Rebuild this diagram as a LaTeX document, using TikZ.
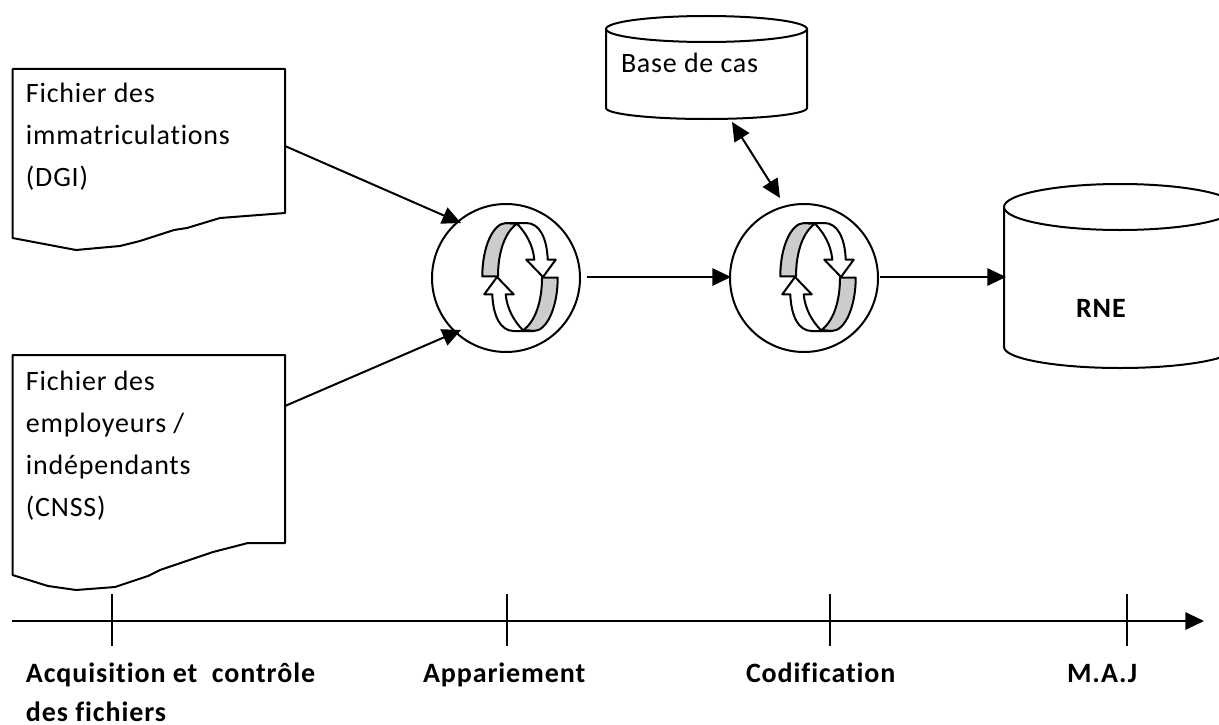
\documentclass[tikz,border=0pt]{standalone}
\usepackage{fontspec}
\setmainfont{Carlito}[LetterSpace=2.8,BoldFeatures={LetterSpace=3.3},Ligatures={NoCommon,NoRequired,NoContextual}]
\usetikzlibrary{arrows.meta}
\tikzset{
  shp/.style={draw=black,line width=1.5pt,line join=round},
  conn/.style={draw=black,line width=1.5pt,-{Triangle[length=14pt,width=13pt]}},
  dconn/.style={draw=black,line width=1.5pt,{Triangle[length=14pt,width=13pt]}-{Triangle[length=14pt,width=13pt]}},
  proc/.style={circle,draw=black,line width=1.5pt,minimum size=111pt,inner sep=0pt,outer sep=0pt},
  txt/.style={anchor=base west,inner sep=0pt,outer sep=0pt,font=\fontsize{21}{31.5}\selectfont},
  btxt/.style={anchor=base west,inner sep=0pt,outer sep=0pt,font=\fontsize{21}{29}\selectfont\bfseries},
  mtxt/.style={anchor=north west,inner sep=0pt,outer sep=0pt,align=left,font=\fontsize{21}{31.5}\selectfont},
  mbtxt/.style={anchor=north west,inner sep=0pt,outer sep=0pt,align=left,font=\fontsize{21}{29}\selectfont\bfseries},
  tick/.style={draw=black,line width=1.5pt},
  halfarrow/.pic={
    \path[shp,fill=black!20] (-37.7,-0.7) .. controls (-37.7,-30) and (-27,-54) .. (-13.7,-54)
      -- (-3,-53.3) .. controls (-15,-45) and (-22,-25) .. (-22,-0.7) -- cycle;
    \path[shp,fill=white] (-13.7,-54) -- (6.3,-54) .. controls (20,-54) and (27,-38) .. (27.7,-17.3)
      -- (35.7,-17.3) -- (23,0) -- (6.3,-17.3) -- (14.3,-17.3)
      .. controls (13,-32) and (6,-44) .. (-3,-53.3) -- cycle;
  },
  cycleicon/.pic={
    \pic {halfarrow};
    \pic[rotate=180] {halfarrow};
  }
}
\begin{document}
\begin{tikzpicture}[x=0.75pt,y=-0.75pt]
\useasboundingbox (0,0) rectangle (1219,724);
\clip (0,0) rectangle (1219,724);
% documents
\path[shp,fill=white] (12.5,69) -- (285,69) -- (285,213) -- (220,218) -- (187,228) -- (174,230) -- (140,241) -- (120,246) -- (76,250) -- (12.5,238) -- cycle;
\path[shp,fill=white] (12.5,355) -- (285,355) -- (285,543) -- (248,543) -- (213,552) -- (160,570) -- (148,576) -- (115,587) -- (76,590) -- (48,586) -- (12.5,575) -- cycle;
\node[mtxt] (doc1) at (26,83) {Fichier des\\immatriculations\\(DGI)};
\node[mtxt] (doc2) at (26,371) {Fichier des\\employeurs /\\indépendants\\(CNSS)};
% databases
\path[shp,fill=white] (606,29) -- (606,108) arc[x radius=100.5,y radius=-11,start angle=180,end angle=360] -- (807,29);
\path[shp,fill=white] (706.5,29) ellipse[x radius=100.5,y radius=13];
\node[txt] (base) at (621,73) {Base de cas};
\path[shp,fill=white] (1004,208) -- (1004,347) arc[x radius=116,y radius=-21,start angle=180,end angle=360] -- (1236,208);
\path[shp,fill=white] (1120,207) ellipse[x radius=116,y radius=23];
\node[txt,font=\fontsize{21}{25}\selectfont\bfseries] (rne) at (1076,317) {RNE};
% processes
\node[proc] (c1) at (506,278) {};
\node[proc] (c2) at (804,278) {};
\pic at (520,277) {cycleicon};
\pic at (818,277) {cycleicon};
% connectors
\coordinate (d1out) at (285,146);
\coordinate (d2out) at (285,406);
\coordinate (c1in1) at (461,223);
\coordinate (c1in2) at (461,330);
\coordinate (rnein) at (1006,277);
\coordinate (basein) at (732,122);
\coordinate (c2top) at (780,198);
\coordinate (c1o) at (587,277);
\coordinate (c2i) at (731,277);
\coordinate (c2o) at (880,277);
\draw[conn] (d1out) -- (c1in1);
\draw[conn] (d2out) -- (c1in2);
\draw[conn] (c1o) -- (c2i);
\draw[conn] (c2o) -- (rnein);
\draw[dconn] (basein) -- (c2top);
% timeline
\coordinate (ax0) at (12,621);
\coordinate (ax1) at (1204,621);
\draw[conn] (ax0) -- (ax1);
\foreach \x in {112,507,830,1127} \draw[tick] (\x,594) -- (\x,646);
\node[mbtxt] (l1) at (26,663) {Acquisition et~~contrôle\\des fichiers};
\node[btxt] (l2) at (423,682) {Appariement};
\node[btxt] (l3) at (746,682) {Codification};
\node[btxt] (l4) at (1067,682) {M.A.J};
\end{tikzpicture}
\end{document}
